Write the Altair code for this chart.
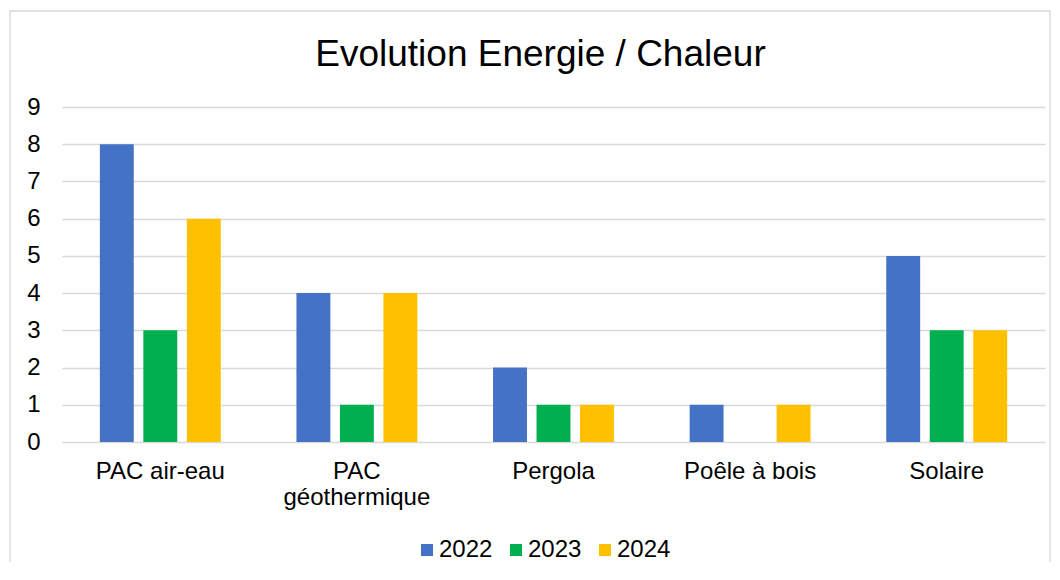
import altair as alt
import pandas as pd

categories = ["PAC air-eau", "PAC géothermique", "Pergola", "Poêle à bois", "Solaire"]
years = ["2022", "2023", "2024"]
v2022 = [8, 4, 2, 1, 5]
v2023 = [3, 1, 1, 0, 3]
v2024 = [6, 4, 1, 1, 3]
colors = ["#4472C4", "#00B050", "#FFC000"]
y_ticks = [0, 1, 2, 3, 4, 5, 6, 7, 8, 9]

rows = []
for yr, vals in zip(years, [v2022, v2023, v2024]):
    for c, v in zip(categories, vals):
        rows.append({"cat": c, "year": yr, "value": v})
df = pd.DataFrame(rows)

FONT = "Liberation Sans"
FS = 24

bars = alt.Chart(df).mark_bar().encode(
    x=alt.X(
        "cat:N",
        sort=categories,
        scale=alt.Scale(paddingInner=0, paddingOuter=0),
        axis=alt.Axis(
            title=None, labelAngle=0, domain=False, ticks=False, grid=False,
            labelPadding=17, labelFontSize=FS, labelColor="#000000", labelFont=FONT,
            labelLineHeight=26, labelBaseline="top",
            labelExpr="datum.label == 'PAC géothermique' ? ['PAC', 'géothermique'] : datum.label",
        ),
    ),
    xOffset=alt.XOffset("year:N", sort=years, scale=alt.Scale(paddingInner=0.22, paddingOuter=0.87)),
    y=alt.Y(
        "value:Q",
        scale=alt.Scale(domain=[0, 9], nice=False),
        axis=alt.Axis(
            title=None, values=y_ticks, domain=False, ticks=False, grid=True,
            gridColor="#d9d9d9", gridWidth=1.3, labelPadding=22, labelFontSize=FS,
            labelColor="#000000", labelFont=FONT,
        ),
    ),
    color=alt.Color(
        "year:N",
        sort=years,
        scale=alt.Scale(domain=years, range=colors),
        legend=alt.Legend(
            title=None, orient="none", legendX=353, legendY=431, direction="horizontal",
            symbolType="square", symbolSize=144, symbolStrokeWidth=0, labelFontSize=FS,
            labelFont=FONT, labelColor="#000000", labelOffset=0, columnPadding=11,
        ),
    ),
)

border = alt.Chart(pd.DataFrame({"a": [0]})).mark_rect(
    fillOpacity=0, stroke="#d9d9d9", strokeWidth=1.3
).encode(
    x=alt.value(-52), x2=alt.value(988), y=alt.value(-96), y2=alt.value(520)
)

chart = alt.layer(border, bars).properties(
    width=983,
    height=335,
    padding={"left": 54, "top": 99, "right": 7, "bottom": 120},
    autosize=alt.AutoSizeParams(type="none"),
    title=alt.TitleParams(
        "Evolution Energie / Chaleur", fontSize=37, font=FONT, fontWeight="normal",
        color="#000000", anchor="middle", dx=-13, baseline="alphabetic", offset=-93,
    ),
).configure_view(stroke=None)

chart.save("out.html", embed_options={"renderer": "svg", "actions": False})
